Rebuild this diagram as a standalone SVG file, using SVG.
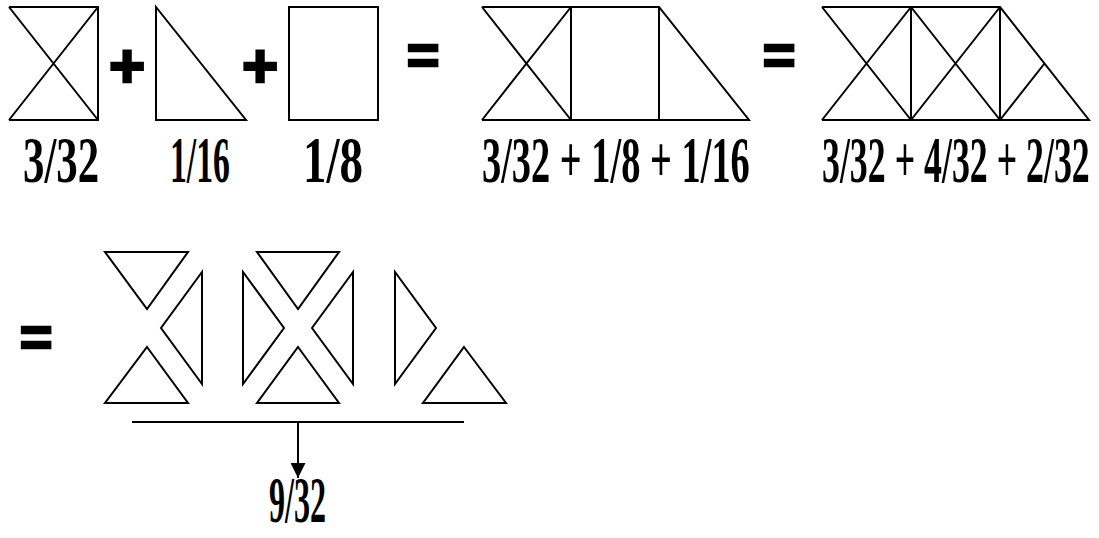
<svg xmlns="http://www.w3.org/2000/svg" width="1099" height="538" viewBox="0 0 1099 538">
<style>
.s{fill:none;stroke:#000;stroke-width:2;stroke-linejoin:miter}
.lbl{font-family:"Liberation Serif",serif;font-weight:bold;font-size:66px;fill:#000}
.op{font-family:"Liberation Sans",sans-serif;font-weight:bold;fill:#000;stroke:#000;stroke-width:2.5;text-anchor:middle}
</style>
<defs>
<marker id="ah" viewBox="0 0 15 15" refX="15" refY="7.5" markerWidth="15" markerHeight="15" markerUnits="userSpaceOnUse" orient="auto">
<path d="M0,0 L15,7.5 L0,15 Z" fill="#000"/>
</marker>
</defs>
<g id="sq-x">
<path class="s" d="M9,7 L98,7 L98,120 L9,120 M9,7 L98,120 M9,120 L98,7"/>
</g>
<g id="plus1"><text class="op" x="127" y="87" font-size="62">+</text></g>
<g id="tri"><path class="s" d="M156,7 L246,120 L156,120 Z"/></g>
<g id="plus2"><text class="op" x="260" y="87" font-size="62">+</text></g>
<g id="rect"><rect class="s" x="289" y="7" width="89" height="113"/></g>
<g id="lbl1"><text class="lbl" transform="translate(23,182) scale(0.648,1)">3/32</text></g>
<g id="lbl2"><text class="lbl" transform="translate(170,182) scale(0.511,1)">1/16</text></g>
<g id="lbl3"><text class="lbl" transform="translate(303,182) scale(0.711,1)">1/8</text></g>
<g id="eq1"><text class="op" x="423" y="74" font-size="56">=</text></g>
<g id="combo1">
<path class="s" d="M482,7 L659,7 L749,120 L482,120 M571,7 L571,120 M659,7 L659,120 M482,7 L571,120 M482,120 L571,7"/>
</g>
<g id="lbl4"><text class="lbl" transform="translate(482,182) scale(0.582,1)">3/32 + 1/8 + 1/16</text></g>
<g id="eq2"><text class="op" x="779" y="74" font-size="56">=</text></g>
<g id="combo2">
<path class="s" d="M822,7 L1000,7 L1089,120 L822,120 M911,7 L911,120 M1000,7 L1000,120 M822,7 L911,120 M822,120 L911,7 M911,7 L1000,120 M911,120 L1000,7 M1000,120 L1044.5,63.5"/>
</g>
<g id="lbl5"><text class="lbl" transform="translate(822,182) scale(0.543,1)">3/32 + 4/32 + 2/32</text></g>
<g id="eq3"><text class="op" x="36" y="356" font-size="56">=</text></g>
<g id="pieces1">
<path class="s" d="M105,252 L188,252 L147,309 Z"/>
<path class="s" d="M202,272 L202,384 L161,328 Z"/>
<path class="s" d="M147,347 L188,403 L105,403 Z"/>
</g>
<g id="pieces2">
<path class="s" d="M243,272 L243,384 L284,328 Z"/>
<path class="s" d="M257,252 L339,252 L298,309 Z"/>
<path class="s" d="M353,272 L353,384 L312,328 Z"/>
<path class="s" d="M298,347 L339,403 L257,403 Z"/>
</g>
<g id="pieces3">
<path class="s" d="M395,272 L395,384 L436,328 Z"/>
<path class="s" d="M464,347 L506,403 L423,403 Z"/>
</g>
<g id="connectors">
<path class="s" d="M132,422 L464,422"/>
<path class="s" d="M298,422 L298,478" marker-end="url(#ah)"/>
</g>
<g id="lbl6"><text class="lbl" transform="translate(269,522) scale(0.486,1)">9/32</text></g>
</svg>
